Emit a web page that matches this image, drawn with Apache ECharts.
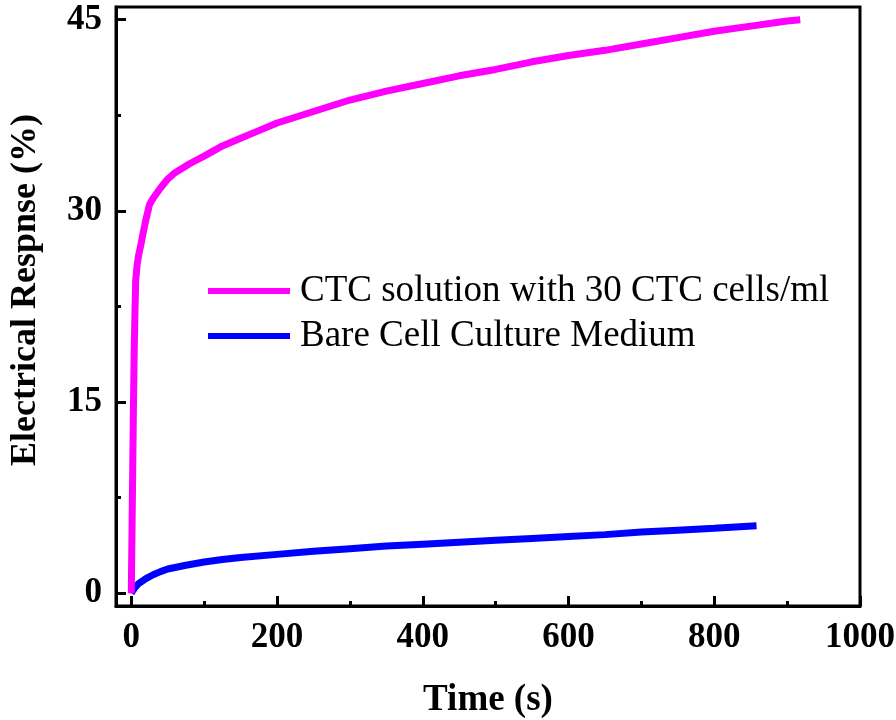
<!DOCTYPE html>
<html>
<head>
<meta charset="utf-8">
<script src="https://cdn.jsdelivr.net/npm/echarts@6/dist/echarts.min.js"></script>
<style>html,body{margin:0;padding:0;background:#fff}#c{width:896px;height:720px}</style>
</head>
<body>
<div id="c"></div>
<script>
var ctcName = 'CTC solution with 30 CTC cells/ml';
var mediumName = 'Bare Cell Culture Medium';
var ctcTime  = [0,1,2,3,4,5,6,8,10,13,16,20,25,30,40,50,60,80,100,125,150,175,200,250,300,350,400,450,500,550,600,650,700,750,800,850,900,918];
var ctcValue = [0,5,10,15,19,22,24.5,25.8,26.5,27.3,28.2,29.3,30.5,31.0,31.8,32.5,33.0,33.7,34.3,35.1,35.7,36.3,36.9,37.8,38.7,39.4,40.0,40.6,41.1,41.7,42.2,42.6,43.1,43.6,44.1,44.5,44.9,45.0];
var mediumTime  = [0,2,5,10,15,20,30,40,50,75,100,125,150,200,250,300,350,400,450,500,550,600,650,700,750,800,858];
var mediumValue = [0,0.2,0.45,0.75,0.95,1.15,1.45,1.7,1.9,2.2,2.45,2.65,2.8,3.05,3.3,3.5,3.7,3.85,4.0,4.15,4.3,4.45,4.6,4.8,4.95,5.1,5.3];
var xMajorTicks = [0,200,400,600,800,1000];
var xMinorTicks = [100,300,500,700,900];
var yMajorTicks = [0,15,30,45];
var yMinorTicks = [7.5,22.5,37.5];
var xTitle = 'Time (s)';
var yTitle = 'Electrical Respnse (%)';

function pairs(xs, ys){ return xs.map(function(x,i){ return [x, ys[i]]; }); }
function plain(v){ return String(v); }

var font = 'Liberation Serif';
var chart = echarts.init(document.getElementById('c'), null, {renderer:'canvas'});
var xMin = -21, xMax = 1000, yMin = -1, yMax = 46;
chart.setOption({
  animation:false,
  backgroundColor:'#fff',
  grid:{left:116,right:36,top:7,bottom:114,containLabel:false,outerBoundsMode:'none',show:true,borderColor:'#000',borderWidth:3,backgroundColor:'transparent'},
  legend:{
    orient:'vertical', left:203, top:266,
    itemWidth:82, itemHeight:6, itemGap:5,
    icon:'rect',
    data:[{name:ctcName,itemStyle:{color:'#ff00ff'}},{name:mediumName,itemStyle:{color:'#0000ff'}}],
    textStyle:{fontFamily:font,fontSize:37,color:'#000',lineHeight:40,padding:[0,0,0,5]}
  },
  xAxis:[{
    type:'value', min:xMin, max:xMax,
    name:xTitle, nameLocation:'middle', nameGap:76,
    nameTextStyle:{fontFamily:font,fontWeight:'bold',fontSize:37,color:'#000'},
    axisLine:{show:true,onZero:false,lineStyle:{color:'#000',width:3}},
    axisTick:{show:true,inside:true,length:10,lineStyle:{color:'#000',width:3},customValues:xMajorTicks},
    axisLabel:{show:true,margin:14,fontFamily:font,fontWeight:'bold',fontSize:35,color:'#000',customValues:xMajorTicks,formatter:plain},
    splitLine:{show:false}
  },{
    type:'value', min:xMin, max:xMax, position:'bottom',
    axisLine:{show:false,onZero:false},
    axisTick:{show:true,inside:true,length:5,lineStyle:{color:'#000',width:3},customValues:xMinorTicks},
    axisLabel:{show:false},
    splitLine:{show:false}
  }],
  yAxis:[{
    type:'value', min:yMin, max:yMax,
    name:yTitle, nameLocation:'middle', nameGap:72,
    nameTextStyle:{fontFamily:font,fontWeight:'bold',fontSize:36,color:'#000',padding:[0,0,0,33]},
    axisLine:{show:true,onZero:false,lineStyle:{color:'#000',width:3}},
    axisTick:{show:true,inside:true,length:10,lineStyle:{color:'#000',width:3},customValues:yMajorTicks},
    axisLabel:{show:true,margin:14,fontFamily:font,fontWeight:'bold',fontSize:35,color:'#000',customValues:yMajorTicks,formatter:plain},
    splitLine:{show:false}
  },{
    type:'value', min:yMin, max:yMax, position:'left',
    axisLine:{show:false,onZero:false},
    axisTick:{show:true,inside:true,length:5,lineStyle:{color:'#000',width:3},customValues:yMinorTicks},
    axisLabel:{show:false},
    splitLine:{show:false}
  }],
  series:[{
    name:ctcName, type:'line', data:pairs(ctcTime, ctcValue), showSymbol:false, symbol:'none', z:3,
    lineStyle:{color:'#ff00ff',width:7}, itemStyle:{color:'#ff00ff'}
  },{
    name:mediumName, type:'line', data:pairs(mediumTime, mediumValue), showSymbol:false, symbol:'none', z:2,
    lineStyle:{color:'#0000ff',width:7}, itemStyle:{color:'#0000ff'}
  }]
});
</script>
</body>
</html>
